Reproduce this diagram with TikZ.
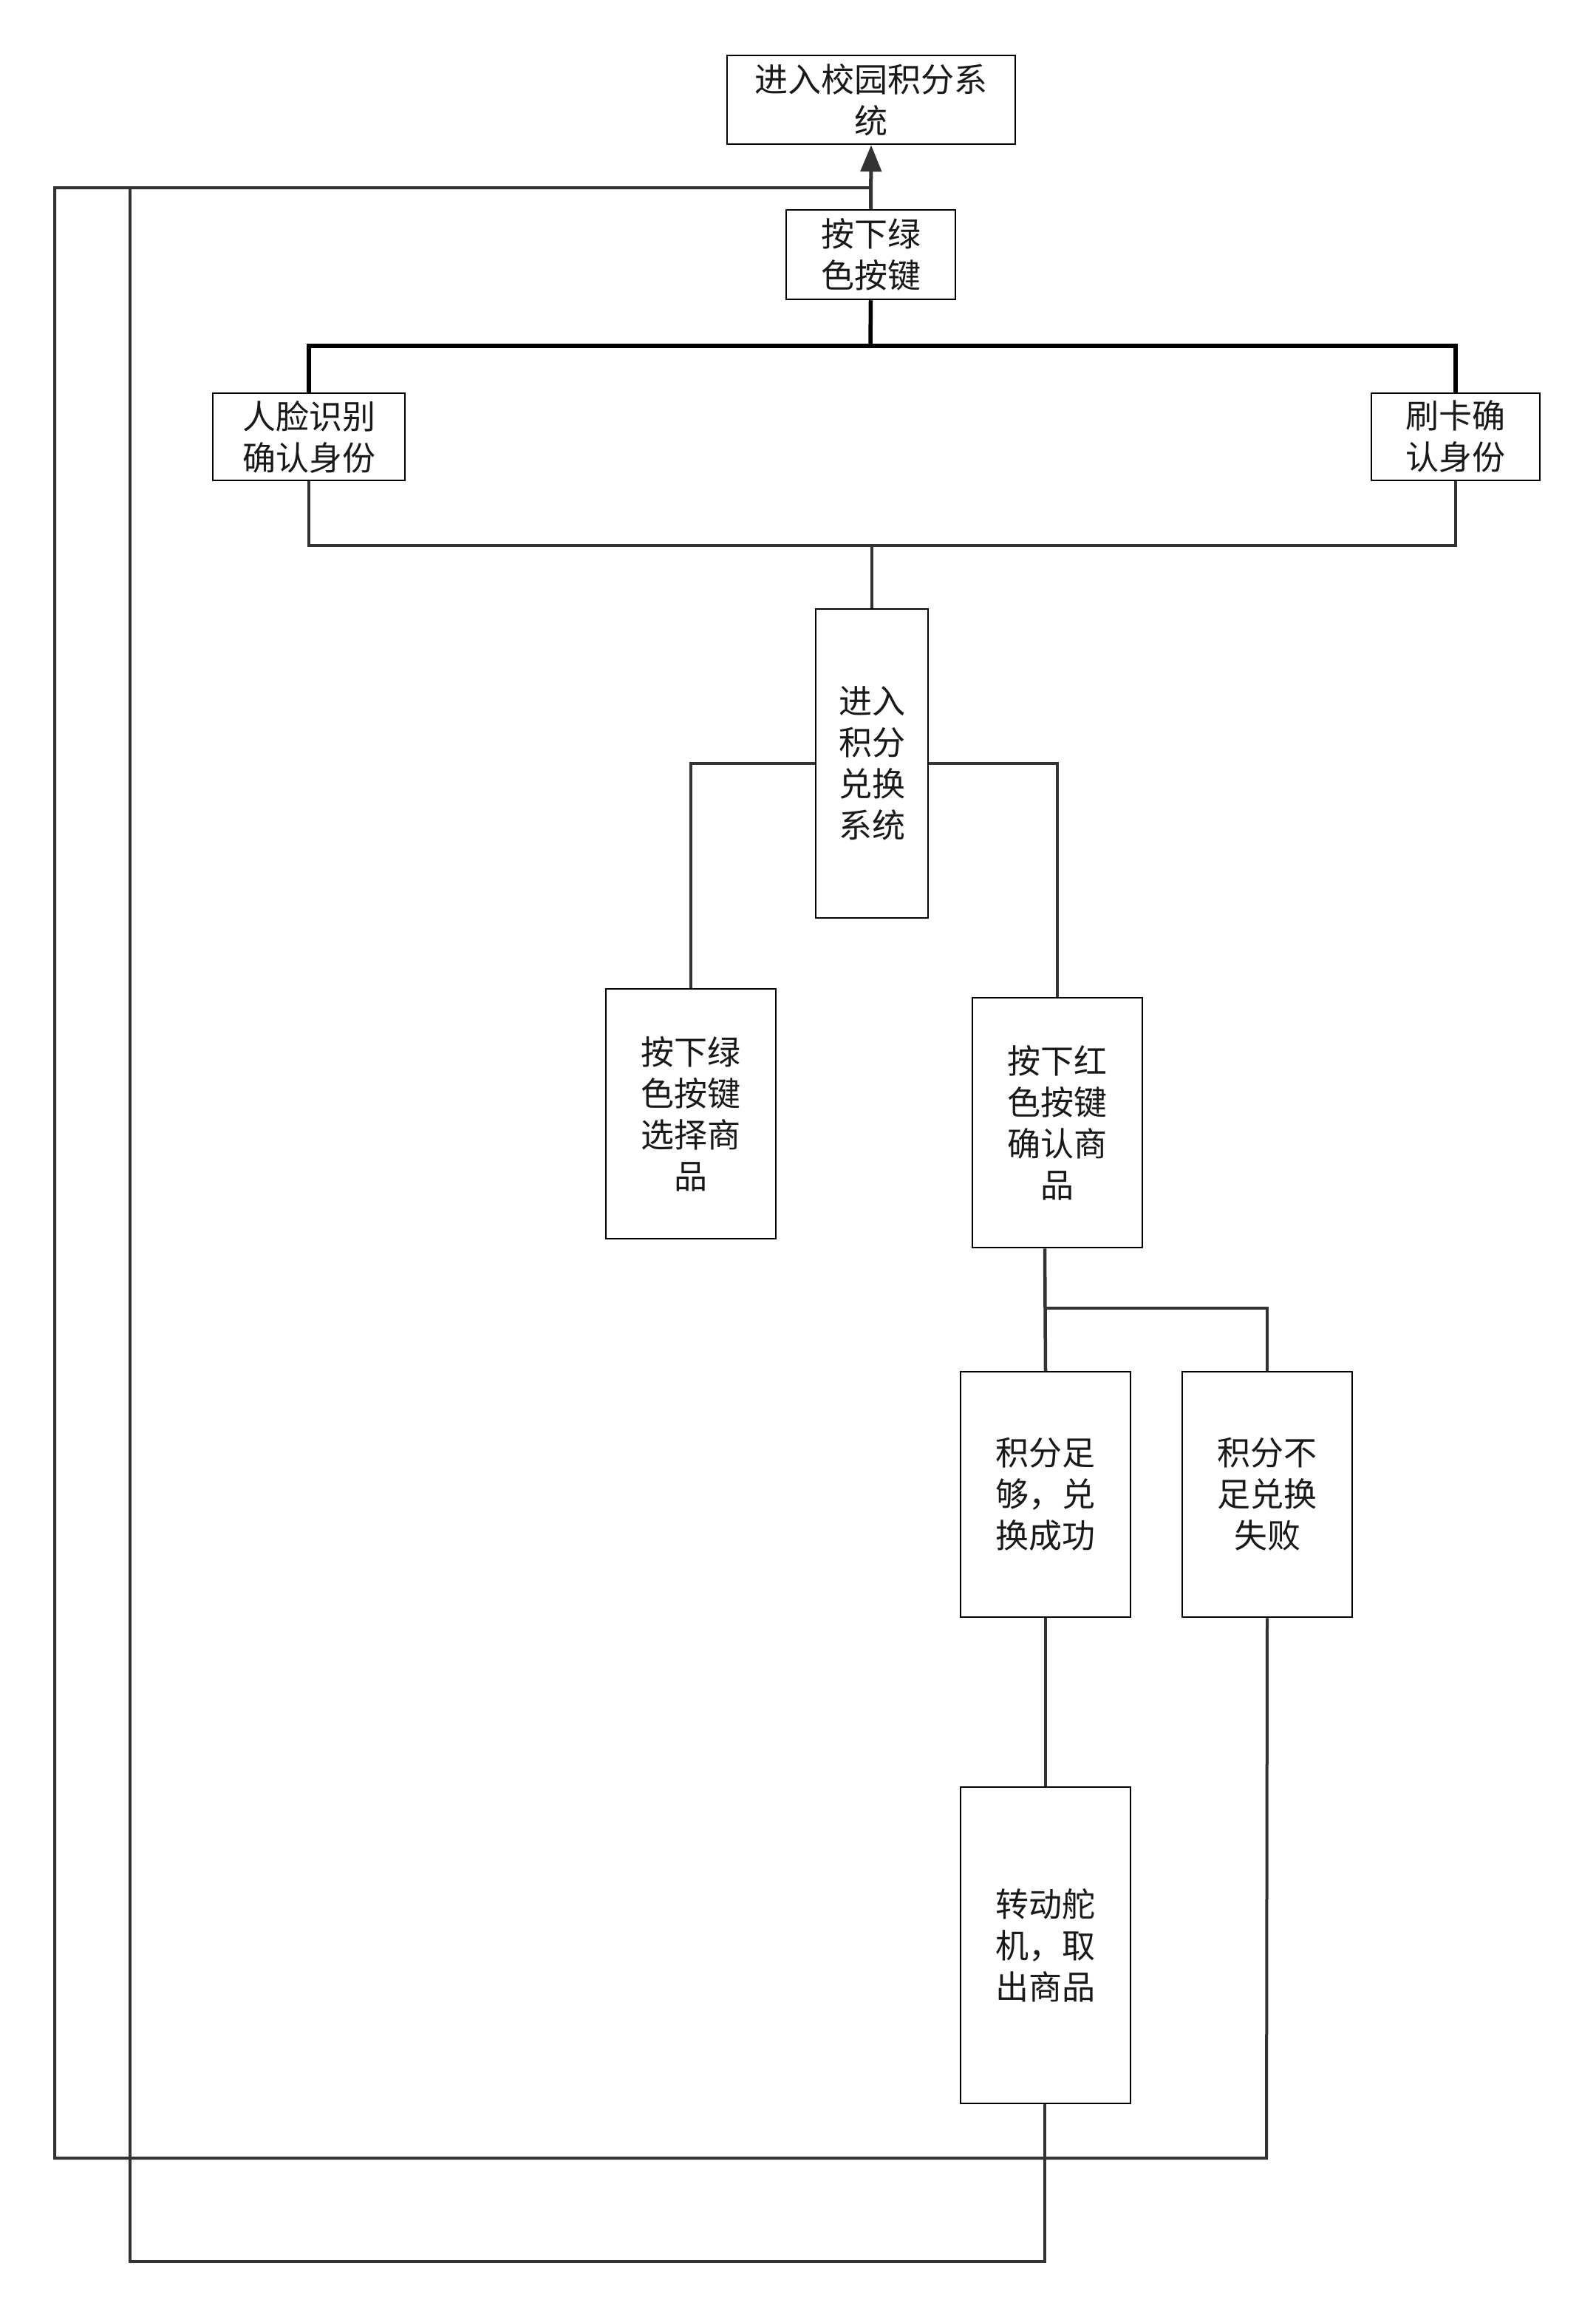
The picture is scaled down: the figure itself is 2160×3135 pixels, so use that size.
\documentclass[tikz,border=0pt]{standalone}
\usepackage{fontspec}
\setmainfont{Noto Sans CJK SC}
\usetikzlibrary{arrows.meta}
\tikzset{
  box/.style={draw=black, line width=2.5pt, fill=white, inner sep=0pt, align=center,
    font=\fontsize{45}{56}\selectfont, text=black!90},
  conn/.style={draw=black!80, line width=4.5pt},
  loopline/.style={draw=black!80, line width=4pt},
}
\begin{document}
\begin{tikzpicture}[x=1pt,y=-1pt]
\useasboundingbox[fill=white] (0,0) rectangle (2160,3135);
% nodes
\node[box, minimum width=390pt, minimum height=120pt] (top) at (1179,135) {进入校园积分系\\统};
\node[box, minimum width=229pt, minimum height=121pt] (green1) at (1178.5,344.5) {按下绿\\色按键};
\node[box, minimum width=260pt, minimum height=118pt] (face) at (418,591) {人脸识别\\确认身份};
\node[box, minimum width=228pt, minimum height=118pt] (card) at (1970,591) {刷卡确\\认身份};
\node[box, minimum width=152pt, minimum height=418pt] (exch) at (1180,1033) {进入\\积分\\兑换\\系统};
\node[box, minimum width=230pt, minimum height=338pt] (sel) at (935,1507) {按下绿\\色按键\\选择商\\品};
\node[box, minimum width=230pt, minimum height=338pt] (red) at (1431,1519) {按下红\\色按键\\确认商\\品};
\node[box, minimum width=230pt, minimum height=332pt] (ok) at (1415,2022) {积分足\\够，兑\\换成功};
\node[box, minimum width=230pt, minimum height=332pt] (fail) at (1715,2022) {积分不\\足兑换\\失败};
\node[box, minimum width=230pt, minimum height=428pt] (servo) at (1415,2632) {转动舵\\机，取\\出商品};
% coordinates
\coordinate (busT) at (1178,468);
\coordinate (busB) at (1180,738);
\coordinate (split) at (1414,1770);
\coordinate (j) at (1178,254);
\coordinate (o1) at (1714,2920);
\coordinate (o2) at (74,2920);
\coordinate (o3) at (74,254);
\coordinate (i1) at (1414,3060);
\coordinate (i2) at (176,3060);
\coordinate (i3) at (176,254);
% connectors
\draw[conn, line width=5pt, -{Triangle[length=36pt,width=28pt]}] (green1.north) -- (top.south);
\draw[conn, draw=black, line width=5.5pt] (green1.south) -- (busT);
\draw[conn, draw=black, line width=5.5pt] (face.north) |- (busT) -| (card.north);
\draw[conn] (face.south) |- (busB);
\draw[conn] (card.south) |- (busB);
\draw[conn] (busB) -- (exch.north);
\draw[conn] (exch.west) -| (sel.north);
\draw[conn] (exch.east) -| (red.north);
\draw[conn] (red.south -| split) -- (ok.north);
\draw[conn] (split) -| (fail.north);
\draw[conn] (ok.south) -- (servo.north);
\draw[loopline] (fail.south) -- (o1) -- (o2) -- (o3) -- (j);
\draw[loopline] (servo.south -| i1) -- (i1) -- (i2) -- (i3);
\end{tikzpicture}
\end{document}
